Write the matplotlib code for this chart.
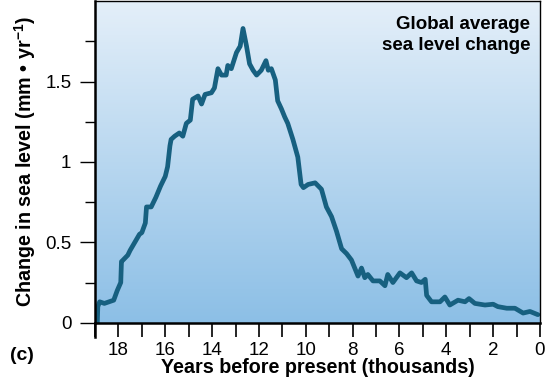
import numpy as np
import matplotlib
matplotlib.use('Agg')
import matplotlib.pyplot as plt
from matplotlib.colors import LinearSegmentedColormap

plt.rcParams['font.family'] = ['Liberation Sans', 'DejaVu Sans']
plt.rcParams['mathtext.fontset'] = 'custom'
plt.rcParams['mathtext.rm'] = 'Liberation Sans:bold'
plt.rcParams['mathtext.bf'] = 'Liberation Sans:bold'

# years before present (thousands) and rate of sea level change (mm/yr)
years = [18.9, 18.88, 18.8, 18.6, 18.4, 18.2, 18.05, 17.9, 17.87, 17.8, 17.6, 17.5,
         17.3, 17.1, 17.0, 16.85, 16.8, 16.6, 16.4, 16.2, 16.0, 15.9, 15.8, 15.75,
         15.6, 15.4, 15.25, 15.1, 14.93, 14.83, 14.6, 14.45, 14.3, 14.03, 13.9,
         13.75, 13.6, 13.4, 13.33, 13.18, 12.96, 12.8, 12.68, 12.53, 12.4, 12.25,
         12.1, 11.9, 11.7, 11.6, 11.47, 11.3, 11.2, 11.04, 10.9, 10.77, 10.55,
         10.34, 10.2, 10.1, 9.9, 9.6, 9.33, 9.12, 8.9, 8.69, 8.47, 8.26, 8.05,
         7.77, 7.62, 7.48, 7.35, 7.13, 6.84, 6.62, 6.5, 6.28, 5.98, 5.7, 5.48,
         5.27, 5.06, 4.9, 4.84, 4.63, 4.27, 4.06, 3.85, 3.5, 3.2, 3.03, 2.78,
         2.35, 2.0, 1.8, 1.42, 1.07, 0.72, 0.43, 0.09]
rate = [0.0, 0.1, 0.13, 0.12, 0.13, 0.14, 0.2, 0.25, 0.38, 0.39, 0.42, 0.45,
        0.5, 0.55, 0.56, 0.62, 0.72, 0.72, 0.78, 0.85, 0.91, 0.97, 1.1, 1.14,
        1.16, 1.18, 1.16, 1.24, 1.26, 1.39, 1.41, 1.36, 1.42, 1.43, 1.46,
        1.58, 1.54, 1.54, 1.6, 1.58, 1.68, 1.72, 1.83, 1.72, 1.61, 1.57,
        1.54, 1.57, 1.63, 1.57, 1.58, 1.51, 1.38, 1.33, 1.28, 1.24, 1.14,
        1.03, 0.86, 0.84, 0.86, 0.87, 0.83, 0.72, 0.66, 0.57, 0.46, 0.43, 0.39,
        0.29, 0.34, 0.28, 0.3, 0.26, 0.26, 0.23, 0.3, 0.25, 0.31, 0.28, 0.31,
        0.26, 0.25, 0.27, 0.17, 0.13, 0.13, 0.16, 0.11, 0.14, 0.13, 0.15, 0.12,
        0.11, 0.115, 0.1, 0.09, 0.09, 0.06, 0.07, 0.05]

fig = plt.figure(figsize=(5.5, 3.81), dpi=100)
ax = fig.add_axes([0.1727, 0.153, 0.8091, 0.844])

# background gradient
cmap = LinearSegmentedColormap.from_list('bg', ['#e4eff9', '#8cbfe6'])
grad = np.linspace(0, 1, 256).reshape(-1, 1)
ax.imshow(grad, cmap=cmap, aspect='auto', extent=[19, 0, 0, 2.0],
          origin='upper', zorder=0)

ax.plot(years, rate, color='#176080', lw=3.4, solid_joinstyle='round',
        solid_capstyle='round', zorder=2)

ax.set_xlim(19, 0)
ax.set_ylim(0, 2.0)
ax.set_xticks(range(18, -1, -2))
ax.set_xticks(range(19, 0, -2), minor=True)
ax.set_yticks([0, 0.5, 1, 1.5])
ax.set_yticklabels(['0', '0.5', '1', '1.5'])
ax.set_yticks([0.25, 0.75, 1.25, 1.75], minor=True)
ax.tick_params(axis='x', which='both', direction='out', length=10, width=1.2,
               labelsize=13.5, pad=4)
ax.tick_params(axis='y', which='major', direction='out', length=11, width=1,
               labelsize=13.5, pad=6)
ax.tick_params(axis='y', which='minor', direction='out', length=7, width=1)
for s in ['left', 'bottom']:
    ax.spines[s].set_linewidth(1.8)
for s in ['top', 'right']:
    ax.spines[s].set_linewidth(1)
ax.plot([0, 0], [0, -0.045], transform=ax.transAxes, color='black', lw=1.8,
        clip_on=False)

ax.set_xlabel('Years before present (thousands)', fontsize=14.2,
              fontweight='bold', labelpad=-1)
ax.set_ylabel(r'Change in sea level (mm • yr$^{-1}$)', fontsize=14.2,
              fontweight='bold', labelpad=5)

ax.text(0.978, 0.955, 'Global average\nsea level change', transform=ax.transAxes,
        ha='right', va='top', fontsize=13.5, fontweight='bold',
        linespacing=1.3)
fig.text(0.018, 0.068, '(c)', fontsize=14, fontweight='bold', ha='left',
         va='center')

fig.savefig('out.png', dpi=100)
